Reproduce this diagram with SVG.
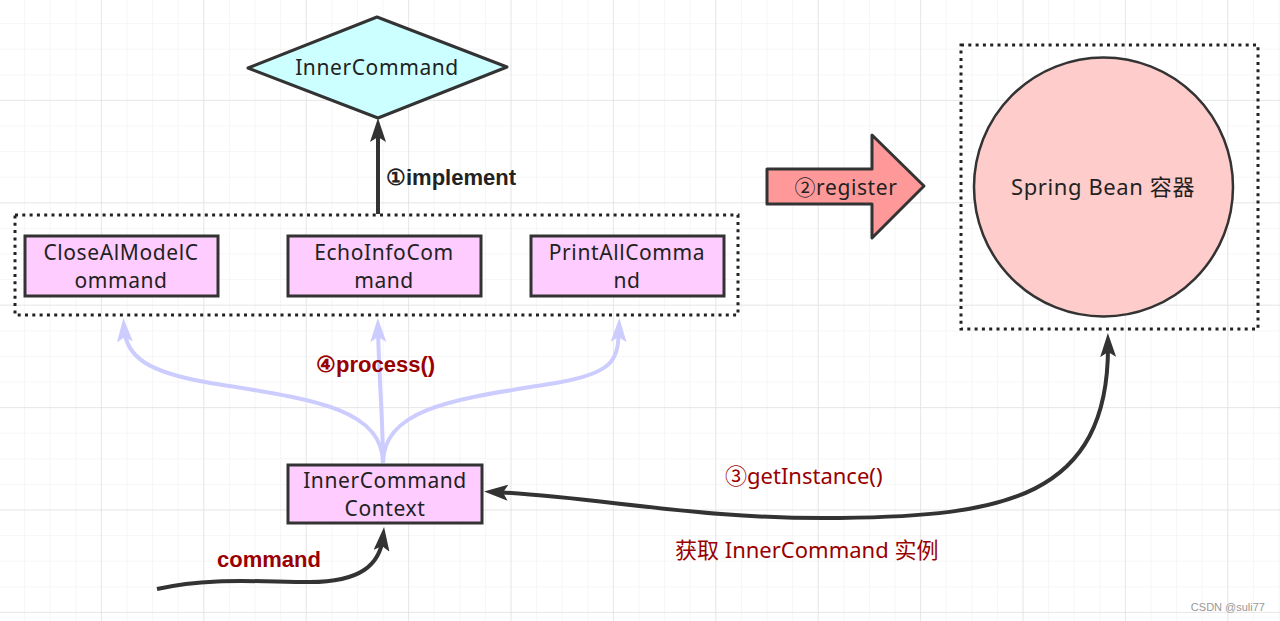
<svg xmlns="http://www.w3.org/2000/svg" width="1280" height="621" viewBox="0 0 1280 621">
<defs>
<pattern id="gmin" width="25.6" height="25.6" patternUnits="userSpaceOnUse" x="-0.5" y="-1.5">
<path d="M25.6 0V25.6M0 25.6H25.6" fill="none" stroke="#eeeeee" stroke-width="1"/>
</pattern>
<pattern id="gmaj" width="102.4" height="102.4" patternUnits="userSpaceOnUse" x="-0.5" y="-1.5">
<path d="M102.4 0V102.4M0 102.4H102.4" fill="none" stroke="#e2e2e2" stroke-width="1.5"/>
</pattern>
<marker id="ah" markerUnits="userSpaceOnUse" markerWidth="24" markerHeight="16" viewBox="0 0 24 16" refX="14" refY="8" orient="auto-start-reverse">
<path d="M0,0 L24,8 L0,16 L5,8 z" fill="#333"/>
</marker>
<marker id="ahl" markerUnits="userSpaceOnUse" markerWidth="24" markerHeight="16" viewBox="0 0 24 16" refX="14" refY="8" orient="auto">
<path d="M0,0 L24,8 L0,16 L5,8 z" fill="#ccccff"/>
</marker>
</defs>
<style>
.node{fill:#ffccff;stroke:#333;stroke-width:3}
.dot{fill:none;stroke:#222;stroke-width:3;stroke-dasharray:3 4.3}
.t{font-family:"Noto Sans","Noto Sans CJK SC",sans-serif;font-size:21px;letter-spacing:0.6px;fill:#222;text-anchor:middle}
.b{font-family:"Liberation Sans",Arial,sans-serif;font-size:22px;font-weight:bold;text-anchor:start}
.r{font-family:"Noto Sans","Noto Sans CJK SC",sans-serif;font-size:22px;fill:#990000;text-anchor:start}
.dk{fill:none;stroke:#333;stroke-width:4}
.lt{fill:none;stroke:#ccccff;stroke-width:4}
</style>
<rect width="1280" height="621" fill="#ffffff"/>
<rect width="1280" height="621" fill="url(#gmin)"/>
<rect width="1280" height="621" fill="url(#gmaj)"/>

<g id="connectors">
<path class="dk" d="M378,214 V128" marker-end="url(#ah)"/>
<path class="lt" d="M383,463 C383,420 379,380 378,328" marker-end="url(#ahl)"/>
<path class="lt" d="M383,463 C383,405 300,398 205,382 C150,372 126,358 124,328" marker-end="url(#ahl)"/>
<path class="lt" d="M383,463 C383,405 466,398 561,382 C616,372 618,358 619,328" marker-end="url(#ahl)"/>
<path class="dk" d="M157,589 C210,577 260,582 310,582 C360,582 380,565 383,537" marker-end="url(#ah)"/>
<path class="dk" d="M494,492 C600,497 700,520 840,518 C1000,516 1110,500 1108,343" marker-start="url(#ah)" marker-end="url(#ah)"/>
</g>

<g id="innercommand">
<polygon points="377,17 507,67 378,118 248,68" fill="#ccffff" stroke="#333" stroke-width="3" stroke-linejoin="round"/>
<text class="t" x="377" y="75">InnerCommand</text>
</g>

<g id="implementations">
<rect class="dot" x="15" y="215" width="723" height="100"/>
</g>

<g id="closeAlModelCommand">
<rect class="node" x="25" y="236" width="193" height="60"/>
<text class="t" x="121" y="260">CloseAlModelC</text>
<text class="t" x="121" y="288">ommand</text>
</g>

<g id="echoInfoCommand">
<rect class="node" x="288" y="236" width="193" height="60"/>
<text class="t" x="384" y="260">EchoInfoCom</text>
<text class="t" x="384" y="288">mand</text>
</g>

<g id="printAllCommand">
<rect class="node" x="531" y="236" width="193" height="60"/>
<text class="t" x="627" y="260">PrintAllComma</text>
<text class="t" x="627" y="288">nd</text>
</g>

<g id="register">
<polygon points="767,169 872,169 872,135 924,186 872,238 872,204 767,204" fill="#ff9999" stroke="#333" stroke-width="3" stroke-linejoin="round"/>
<text class="t" x="846" y="195">②register</text>
</g>

<g id="springContainer">
<rect class="dot" x="961" y="45" width="297" height="284"/>
<circle cx="1103.5" cy="187" r="129.5" fill="#ffcccc" stroke="#333" stroke-width="2.5"/>
<text class="t" x="1103" y="195" style="font-size:22px">Spring Bean 容器</text>
</g>

<g id="innerCommandContext">
<rect class="node" x="288" y="465" width="194" height="58"/>
<text class="t" x="385" y="488">InnerCommand</text>
<text class="t" x="385" y="516">Context</text>
</g>

<g id="labels">
<text class="b" x="386" y="185" fill="#222">①implement</text>
<text class="b" x="316" y="372" fill="#990000">④process()</text>
<text class="b" x="217" y="567" fill="#990000">command</text>
<text class="r" x="725" y="484">③getInstance()</text>
<text class="r" x="675" y="558">获取 InnerCommand 实例</text>
<text x="1265" y="611" font-family="Liberation Sans, Arial, sans-serif" font-size="11" fill="#999" text-anchor="end">CSDN @suli77</text>
</g>
</svg>
